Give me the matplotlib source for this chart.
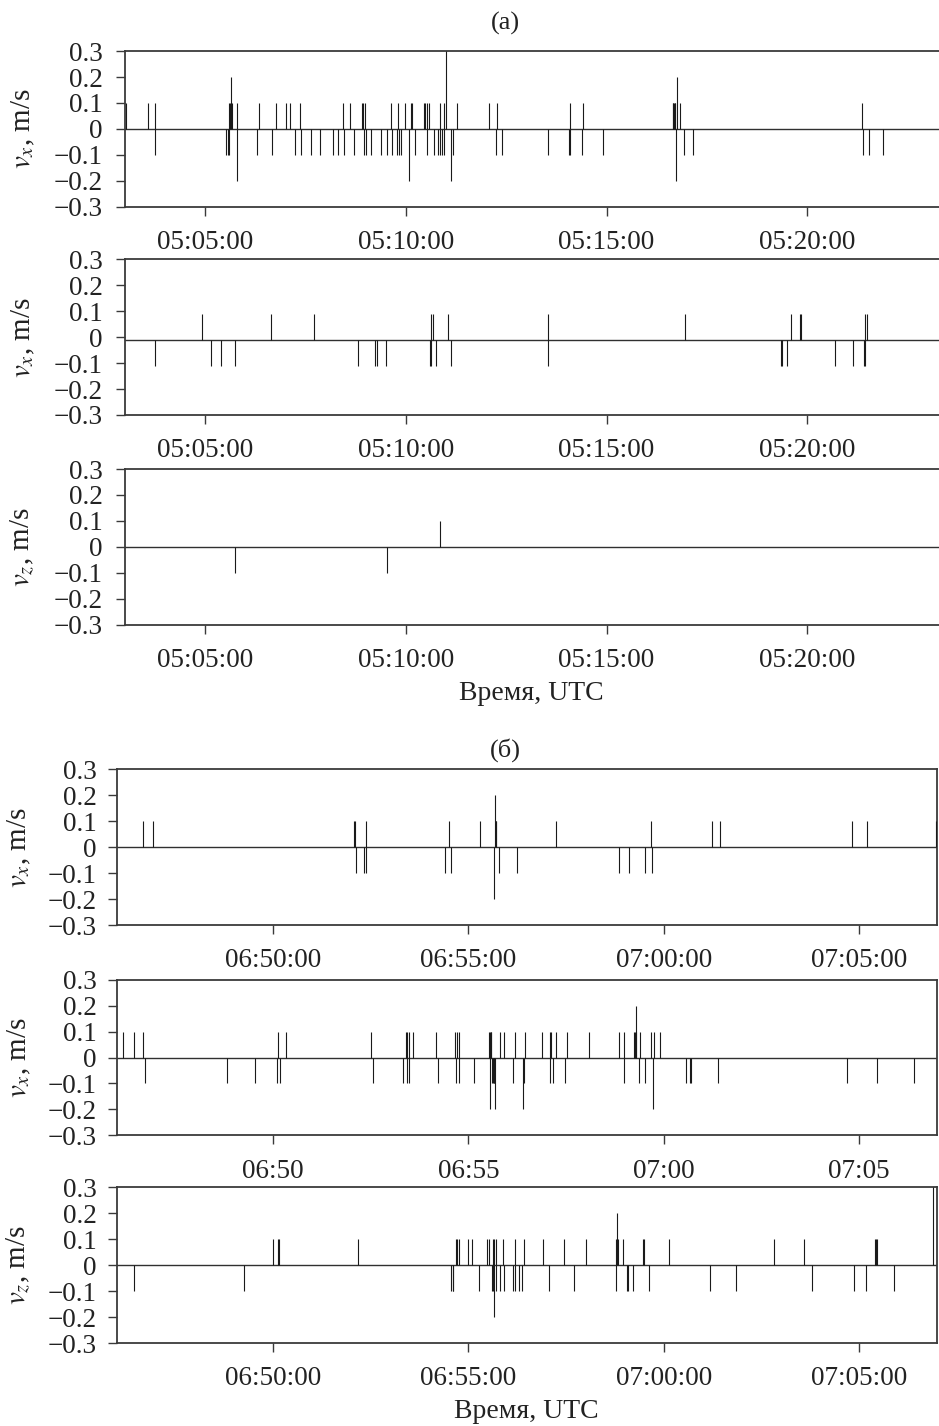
import matplotlib
matplotlib.use("Agg")
import matplotlib.pyplot as plt
import matplotlib.dates as mdates
from matplotlib.ticker import FuncFormatter
from datetime import datetime, timedelta

plt.rcParams['font.family'] = ['Liberation Serif', 'DejaVu Serif']
plt.rcParams['mathtext.fontset'] = 'stix'

# ---- (a): seconds after 05:00:00 ----
a_start = datetime(2000, 1, 1, 5, 0, 0)
a_xlim = (180, 1407)

a1_p01 = [181, 215, 225, 335, 337, 340, 348, 380, 405, 421, 426, 442, 506, 517, 535, 536,
          539, 578, 588, 599, 607, 609, 627, 629, 632, 634, 651, 657, 677, 724, 736, 846,
          865, 999, 1000, 1001, 1002, 1003, 1010, 1282]
a1_p02 = [339, 1005]
a1_p03 = [660]
a1_m01 = [224, 331, 334, 336, 378, 400, 434, 443, 458, 472, 491, 498, 508, 522, 538, 540,
          547, 562, 572, 579, 587, 589, 592, 613, 632, 642, 648, 651, 654, 657, 670, 734,
          744, 813, 844, 845, 863, 894, 1015, 1029, 1284, 1292, 1314]
a1_m02 = [347, 605, 668, 1004]

a2_base = -0.01
a2_p = [295, 398, 463, 638, 640, 663, 813, 1017, 1176, 1189, 1191, 1287, 1289]
a2_m = [224, 308, 324, 344, 528, 554, 556, 570, 636, 638, 645, 668, 813, 1161, 1163, 1170,
        1241, 1268, 1285, 1287]

a3_p01 = [651]
a3_m01 = [344, 572]

# ---- (б): seconds after 06:46:00 ----
b_start = datetime(2000, 1, 1, 6, 46, 0)
b_xlim = (0, 1260)

b1_p01 = [41, 56, 365, 366, 382, 510, 558, 582, 583, 675, 820, 914, 926, 1129, 1152, 1258]
b1_p02 = [581]
b1_m01 = [367, 379, 382, 504, 513, 587, 615, 772, 786, 811, 822]
b1_m02 = [579, 1259]

b2_p01 = [9, 26, 41, 247, 260, 390, 444, 446, 449, 455, 491, 519, 522, 526, 572, 573, 574,
          575, 588, 595, 611, 627, 653, 665, 667, 675, 691, 725, 771, 779, 794, 796, 797,
          803, 821, 825, 834]
b2_p02 = [798]
b2_m01 = [43, 169, 213, 246, 250, 393, 439, 446, 449, 493, 521, 526, 548, 577, 578, 579,
          580, 609, 626, 665, 670, 688, 779, 802, 811, 874, 880, 882, 924, 1121, 1168, 1224]
b2_m02 = [573, 581, 624, 824]

b3_p01 = [240, 248, 249, 371, 521, 523, 526, 540, 545, 568, 572, 578, 580, 582, 593, 612,
          626, 654, 687, 720, 767, 770, 777, 808, 809, 848, 1009, 1055, 1164, 1166, 1168]
b3_p02 = [768]
b3_p03 = [1254]
b3_m01 = [26, 195, 514, 516, 517, 557, 576, 578, 583, 588, 595, 608, 612, 618, 623, 664,
          702, 767, 783, 785, 793, 817, 911, 951, 1068, 1132, 1150, 1193]
b3_m02 = [580]

SPINE = '#3a3a3a'
TXT = '#222222'
yticks = [-0.3, -0.2, -0.1, 0, 0.1, 0.2, 0.3]


def ylab(v, pos):
    if abs(v) < 1e-9:
        return '0'
    return f'{v:.1f}'.replace('-', '\u2212')


def to_dt(start, secs):
    return [start + timedelta(seconds=s) for s in secs]


def panel(rect, start, xlim, groups, base, label, fmt, ypad, labx, right_spine=True):
    ax = fig.add_axes(rect)
    ax.axhline(base, color='#303030', lw=1.0, zorder=2)
    for secs, val in groups:
        ax.vlines(to_dt(start, secs), base, val, color='#1a1a1a', lw=0.8, zorder=3)
    ax.set_xlim(to_dt(start, xlim))
    ax.set_ylim(-0.3, 0.3)
    ax.set_yticks(yticks)
    ax.yaxis.set_major_formatter(FuncFormatter(ylab))
    ax.xaxis.set_major_locator(mdates.MinuteLocator(byminute=range(0, 60, 5)))
    ax.xaxis.set_major_formatter(mdates.DateFormatter(fmt))
    for s in ax.spines.values():
        s.set_color(SPINE)
        s.set_linewidth(1.3)
    ax.spines['right'].set_visible(right_spine)
    ax.tick_params(direction='out', length=6.7, width=1.0, color=SPINE,
                   labelsize=19.5, labelcolor=TXT)
    ax.tick_params(axis='x', pad=10)
    ax.tick_params(axis='y', pad=ypad)
    ax.set_ylabel(label, fontsize=21, color=TXT)
    ax.yaxis.set_label_coords(labx, 0.5)
    return ax


fig = plt.figure(figsize=(9.39, 14.26), dpi=100)

h = 0.1092
al, aw = 0.1332, 0.8739
bl, bw = 0.1243, 0.8739

panel([al, 0.8550, aw, h], a_start, a_xlim,
      [(a1_p01, 0.1), (a1_p02, 0.2), (a1_p03, 0.3), (a1_m01, -0.1), (a1_m02, -0.2)],
      0, '$v_x$, m/s', '%H:%M:%S', 9.5, -0.107, right_spine=False)
panel([al, 0.7090, aw, h], a_start, a_xlim,
      [(a2_p, 0.09), (a2_m, -0.11)],
      a2_base, '$v_x$, m/s', '%H:%M:%S', 9.5, -0.107, right_spine=False)
panel([al, 0.5619, aw, h], a_start, a_xlim,
      [(a3_p01, 0.1), (a3_m01, -0.1)],
      0, '$v_z$, m/s', '%H:%M:%S', 9.5, -0.107, right_spine=False)

panel([bl, 0.3513, bw, h], b_start, b_xlim,
      [(b1_p01, 0.1), (b1_p02, 0.2), (b1_m01, -0.1), (b1_m02, -0.2)],
      0, '$v_x$, m/s', '%H:%M:%S', 7.5, -0.102)
panel([bl, 0.2038, bw, h], b_start, b_xlim,
      [(b2_p01, 0.1), (b2_p02, 0.2), (b2_m01, -0.1), (b2_m02, -0.2)],
      0, '$v_x$, m/s', '%H:%M', 7.5, -0.102)
panel([bl, 0.0582, bw, h], b_start, b_xlim,
      [(b3_p01, 0.1), (b3_p02, 0.2), (b3_p03, 0.3), (b3_m01, -0.1), (b3_m02, -0.2)],
      0, '$v_z$, m/s', '%H:%M:%S', 7.5, -0.102)

fig.text(0.5378, 0.9839, '(a)', ha='center', va='center', fontsize=19, color=TXT)
fig.text(0.5386, 0.4741, '(б)', ha='center', va='center', fontsize=19, color=TXT)
fig.text(0.566, 0.5138, 'Время, UTC', ha='center', va='center', fontsize=20, color=TXT)
fig.text(0.560, 0.0105, 'Время, UTC', ha='center', va='center', fontsize=20, color=TXT)

fig.savefig('out.png', dpi=100)
